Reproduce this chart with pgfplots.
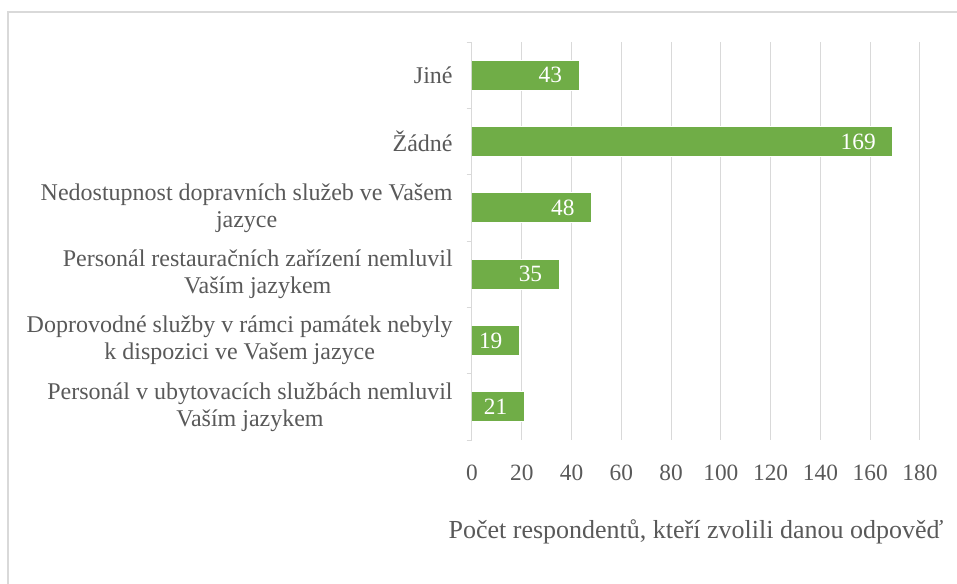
\documentclass[border=0pt]{standalone}
\usepackage{fontspec}
\setmainfont{Liberation Serif}
\usepackage{pgfplots}
\pgfplotsset{compat=1.18}
\definecolor{bargreen}{HTML}{70AD47}
\definecolor{gridgray}{HTML}{D9D9D9}
\definecolor{txtgray}{HTML}{595959}
\begin{document}
\begin{tikzpicture}
\useasboundingbox (-354pt,-107.25pt) rectangle (363.75pt,330pt);
\draw[gridgray, line width=0.9pt] (-348pt,-120pt) -- (-348pt,321pt) -- (380pt,321pt);
\begin{axis}[
  at={(0pt,0pt)}, anchor=south west,
  scale only axis, width=336pt, height=298.5pt,
  xbar, bar width=22.5pt,
  xmin=0, xmax=180,
  ymin=-0.5, ymax=5.5, y dir=reverse,
  xtick={0,20,...,180},
  ytick={0,...,5},
  yticklabels={Jiné, Žádné, {Nedostupnost dopravních služeb ve Vašem\\jazyce}, {Personál restauračních zařízení nemluvil\\Vaším jazykem}, {Doprovodné služby v rámci památek nebyly\\k dispozici ve Vašem jazyce}, {Personál v ubytovacích službách nemluvil\\Vaším jazykem}},
  minor ytick={-0.5,0.5,...,5.5},
  major tick length=0pt, minor tick length=4pt,
  tick align=outside,
  minor tick style={gridgray, line width=0.75pt},
  axis lines*=left,
  x axis line style={draw=none},
  y axis line style={gridgray, line width=0.75pt, -},
  xmajorgrids, grid style={gridgray, line width=0.75pt},
  /pgf/number format/assume math mode=true,
  font=\fontsize{18pt}{20.25pt}\selectfont,
  x tick label style={anchor=base, yshift=-30pt, text=txtgray, font=\fontsize{17.5pt}{20pt}\selectfont},
  y tick label style={align=center, anchor=east, xshift=-11pt, text=txtgray},
  xlabel={Počet respondentů, kteří zvolili danou odpověď},
  xlabel style={at={(axis description cs:0.5,0)}, anchor=base, yshift=-73.5pt, text=txtgray, font=\fontsize{19.5pt}{22pt}\selectfont},
  nodes near coords,
  nodes near coords style={anchor=east, xshift=-9pt, text=white, font=\fontsize{17.5pt}{20pt}\selectfont},
]
\addplot[fill=bargreen, draw=white, line width=0.75pt] coordinates {
  (43,0) (169,1) (48,2) (35,3) (19,4) (21,5)
};
\end{axis}
\end{tikzpicture}
\end{document}
